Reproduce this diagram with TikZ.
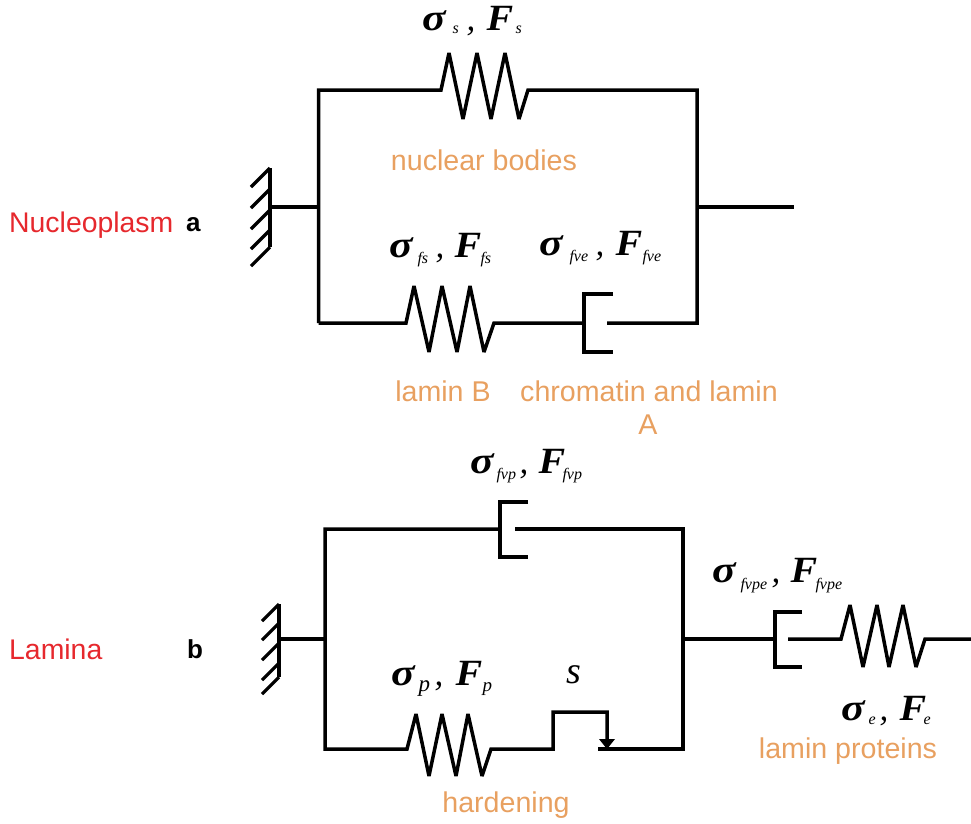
\documentclass[tikz,border=0pt]{standalone}
\usepackage{fontspec}
\setmainfont{Liberation Serif}
\setsansfont{Liberation Sans}
\usetikzlibrary{arrows.meta}
\definecolor{lblorange}{RGB}{232,160,96}
\definecolor{lblred}{RGB}{230,40,45}
\newcommand{\bigsym}[1]{{\fontsize{37}{37}\selectfont\bfseries\itshape #1}}
\newcommand{\smallsym}[1]{{\fontsize{16}{16}\selectfont\itshape #1}}
\newcommand{\atx}[2]{\makebox[0pt][l]{\hspace*{#1pt}#2}}
\newcommand{\sigmasym}{\scalebox{1.18}[1.02]{\bigsym{σ}}}
\newcommand{\forcesym}{\scalebox{1.08}[1]{\bigsym{F}}}
\newcommand{\commasym}{{\fontsize{35}{35}\selectfont\itshape ,}}
% #1 sub1 text, #2 sub2 text, #3 sub x, #4 comma x, #5 F x, #6 sub2 x, #7 sub drop
\newcommand{\slab}[7]{\atx{0}{\sigmasym}\atx{#3}{\raisebox{-#7pt}{\smallsym{#1}}}\atx{#4}{\commasym}\atx{#5}{\forcesym}\atx{#6}{\raisebox{-#7pt}{\smallsym{#2}}}\strut}
\tikzset{
  x=1pt,y=-1pt,
  wire/.style={line width=3.5pt,line join=miter,miter limit=2,line cap=butt,draw=black},
  hatch/.style={line width=3.2pt,draw=black},
  sym/.style={anchor=base west,inner sep=0pt,outer sep=0pt},
  org/.style={anchor=base,inner sep=0pt,text=lblorange,font=\sffamily\fontsize{28.6}{28.6}\selectfont},
  tag/.style={anchor=base west,inner sep=0pt,text=lblred,font=\sffamily\fontsize{28.4}{28.4}\selectfont},
  panel/.style={anchor=base west,inner sep=0pt,font=\sffamily\bfseries\fontsize{26}{26}\selectfont},
}
\begin{document}
\begin{tikzpicture}
\useasboundingbox (0,0) rectangle (971,823);
% --- panel a coordinates
\coordinate (wa) at (270,207);
\coordinate (la) at (318.5,207);
\coordinate (ra) at (697,207);
\coordinate (ea) at (794,207);
\coordinate (lat) at (318.5,90);
\coordinate (rat) at (697,90);
\coordinate (lab) at (318.5,323);
\coordinate (rab) at (697,323);
\coordinate (s1a) at (441,90);
\coordinate (s1b) at (528,90);
\coordinate (s2a) at (406,323);
\coordinate (s2b) at (494,323);
\coordinate (d1a) at (584,323);
\coordinate (d1b) at (607,323);
% wall a
\draw[hatch] (270,168) -- (270,247);
\foreach \y in {168,189,210,230,247} \draw[hatch] (270,\y) -- ++(-19,19);
\draw[wire] (wa) -- (la);
\draw[wire] (lab) -- (lat) -- (s1a) -- (449,53) -- (463,119) -- (477,53) -- (491,119) -- (505,53) -- (519,119) -- (s1b) -- (rat) -- (rab) -- (d1b);
\draw[wire] (lab) -- (s2a) -- (414,286) -- (429,352) -- (442,286) -- (457,352) -- (470,286) -- (484,352) -- (s2b) -- (d1a);
\draw[wire] (613,294) -- (584,294) -- (584,352) -- (613,352);
\draw[wire] (ra) -- (ea);
% --- panel b coordinates
\coordinate (wb) at (279,639);
\coordinate (lb) at (325,639);
\coordinate (rb) at (683,639);
\coordinate (lbt) at (325,529);
\coordinate (rbt) at (683,529);
\coordinate (lbb) at (325,749);
\coordinate (rbb) at (683,749);
\coordinate (d2a) at (500,529);
\coordinate (d2b) at (515,529);
\coordinate (d3a) at (775,639);
\coordinate (d3b) at (788,639);
\coordinate (s3a) at (841,639);
\coordinate (s3b) at (925,639);
\coordinate (eb) at (971,639);
\coordinate (s4a) at (407,749);
\coordinate (s4b) at (491,749);
\coordinate (g1) at (553,749);
\coordinate (g2) at (553,712);
\coordinate (g3) at (607,712);
\coordinate (g4) at (607,749);
\coordinate (g5) at (598,749);
% wall b
\draw[hatch] (279,604) -- (279,677);
\foreach \y in {604,623,643,663,677} \draw[hatch] (279,\y) -- ++(-17,17);
\draw[wire] (wb) -- (lb);
\draw[wire] (d2a) -- (lbt) -- (lbb) -- (s4a) -- (416,714) -- (429,776) -- (442,714) -- (456,776) -- (468,714) -- (482,776) -- (s4b) -- (g1) -- (g2) -- (g3) -- (g4);
\draw[wire] (g5) -- (rbb) -- (rbt) -- (d2b);
\fill (599,739) -- (615,739) -- (607,749) -- cycle;
\draw[wire] (528,502) -- (500,502) -- (500,557) -- (528,557);
\draw[wire] (rb) -- (d3a);
\draw[wire] (802,612) -- (775,612) -- (775,667) -- (802,667);
\draw[wire] (d3b) -- (s3a) -- (850,605) -- (863,667) -- (877,605) -- (889,667) -- (903,605) -- (916,667) -- (s3b) -- (eb);
% --- symbols
\node[sym] (t1) at (422,30) {\slab{s}{s}{30}{44}{64}{93}{3}};
\node[sym] (t2) at (389,257) {\slab{fs}{fs}{28}{46}{65}{91}{6}};
\node[sym] (t3) at (539,255) {\slab{fve}{fve}{30}{56}{76}{103}{6}};
\node[sym] (t4) at (470,473) {\slab{fvp}{fvp}{26}{49}{68}{92}{6}};
\node[sym] (t5) at (712,582) {\slab{fvpe}{fvpe}{28}{59}{78}{103}{7}};
\node[sym] (t6) at (391,685) {\atx{0}{\sigmasym}\atx{27}{\raisebox{-6pt}{\fontsize{23}{23}\selectfont\itshape p}}\atx{43}{\commasym}\atx{64}{\forcesym}\atx{91}{\raisebox{-6pt}{\fontsize{19}{19}\selectfont\itshape p}}\strut};
\node[sym] (t7) at (841,720) {\slab{e}{e}{27}{38}{58}{82}{4}};
\node[sym] (t8) at (566,683) {\fontsize{38}{38}\selectfont\itshape s};
% --- labels
\node[org] (o1) at (484,170.7) {nuclear bodies};
\node[org] (o2) at (443,401.7) {lamin B};
\node[org] (o3) at (649,401.7) {chromatin and lamin};
\node[org] (o4) at (648,434.7) {A};
\node[org] (o5) at (506,812.7) {hardening};
\node[org] (o6) at (848,758.7) {lamin proteins};
\node[tag] (n1) at (9,232.5) {Nucleoplasm};
\node[tag] (n2) at (9,659.7) {Lamina};
\node[panel] (pa) at (186,231) {a};
\node[panel] (pb) at (187,658) {b};
\end{tikzpicture}
\end{document}
